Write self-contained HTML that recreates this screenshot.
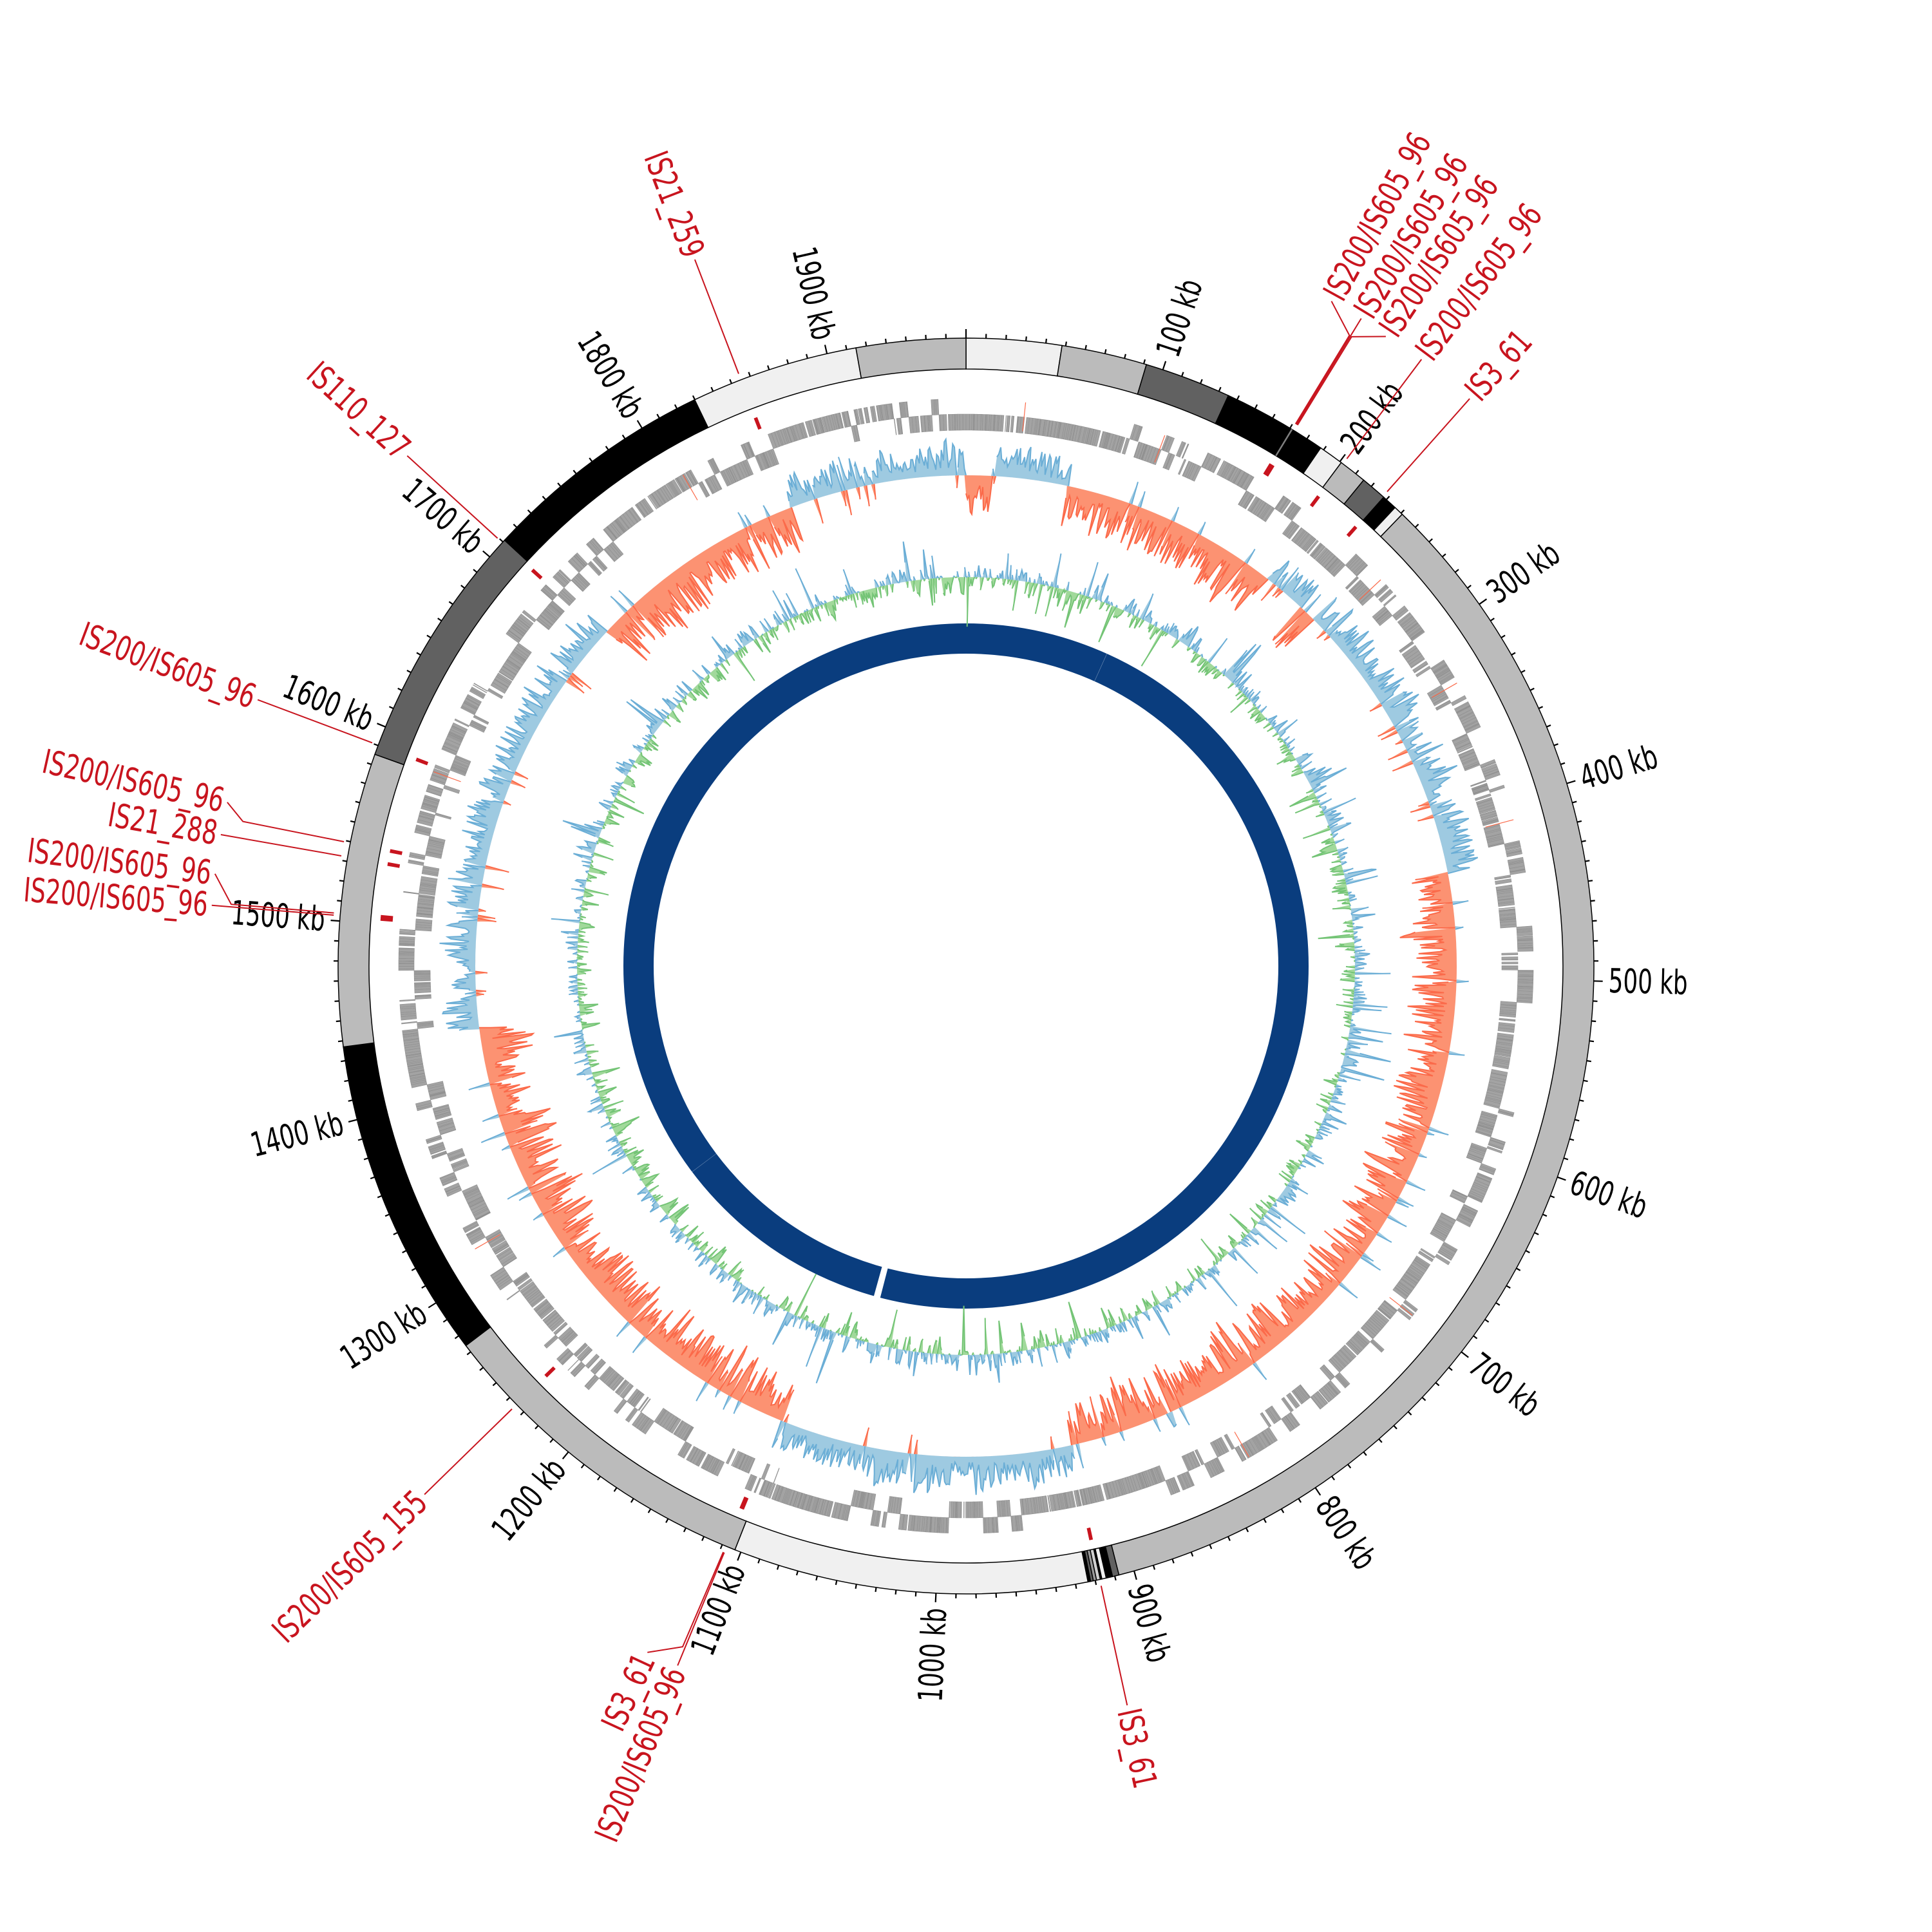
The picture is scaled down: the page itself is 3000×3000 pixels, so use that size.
<!DOCTYPE html>
<html><head><meta charset="utf-8">
<style>
html,body{margin:0;padding:0;background:#fff;}
svg{display:block;}
text{font-family:"DejaVu Sans Condensed","DejaVu Sans","Liberation Sans Narrow",sans-serif;}
</style></head>
<body>
<svg id="s" xmlns="http://www.w3.org/2000/svg" width="3000" height="3000" viewBox="0 0 3000 3000">
<rect width="3000" height="3000" fill="#fff"/>
</svg>
<script>
(function(){
var S=document.getElementById('s');
var C=1500,L=1970,D=Math.PI/180;
function P(a,r){return [C+r*Math.sin(a*D),C-r*Math.cos(a*D)];}
function f(n){return n.toFixed(1);}
function sector(a1,a2,r1,r2){
 var p1=P(a1,r2),p2=P(a2,r2),p3=P(a2,r1),p4=P(a1,r1),lg=(a2-a1)>180?1:0;
 return 'M'+f(p1[0])+','+f(p1[1])+'A'+r2+','+r2+' 0 '+lg+' 1 '+f(p2[0])+','+f(p2[1])+'L'+f(p3[0])+','+f(p3[1])+'A'+r1+','+r1+' 0 '+lg+' 0 '+f(p4[0])+','+f(p4[1])+'Z';
}
function quad(a1,a2,r1,r2){
 var p1=P(a1,r2),p2=P(a2,r2),p3=P(a2,r1),p4=P(a1,r1);
 return 'M'+f(p1[0])+','+f(p1[1])+'L'+f(p2[0])+','+f(p2[1])+'L'+f(p3[0])+','+f(p3[1])+'L'+f(p4[0])+','+f(p4[1])+'Z';
}
function circ(r){return 'M'+(C-r)+','+C+'A'+r+','+r+' 0 1 1 '+(C+r)+','+C+'A'+r+','+r+' 0 1 1 '+(C-r)+','+C+'Z';}
var html='';
function add(s){html+=s;}
var seed=12345;function rnd(){seed=(seed*16807)%2147483647;return (seed-1)/2147483646;}

// inner blue ring
add('<circle cx="1500" cy="1500" r="508.5" fill="none" stroke="#0a3d7e" stroke-width="47"/>');
add('<path d="'+quad(194.5,195.6,480,540)+'" fill="#fff"/>');
add('<path d="'+quad(24.25,24.32,480,540)+'" fill="#fff" opacity="0.4"/>');
add('<path d="'+quad(233.05,233.12,480,540)+'" fill="#fff" opacity="0.4"/>');

function track(vals,R0,posF,posS,negF,negS){
 var N=vals.length,pp='',pn='',sp='',sn='',inP=false,inN=false;
 for(var i=0;i<=N;i++){
  var a=i/N*360,v=vals[i%N];
  var q=P(a,R0+Math.max(v,0)),w=P(a,R0+Math.min(v,0));
  pp+=(i?'L':'M')+f(q[0])+','+f(q[1]);pn+=(i?'L':'M')+f(w[0])+','+f(w[1]);
  if(v>0){sp+=(inP?'L':'M')+f(q[0])+','+f(q[1]);inP=true;}else{if(inP)sp+='L'+f(q[0])+','+f(q[1]);inP=false;}
  if(v<0){sn+=(inN?'L':'M')+f(w[0])+','+f(w[1]);inN=true;}else{if(inN)sn+='L'+f(w[0])+','+f(w[1]);inN=false;}
 }
 add('<path d="'+pn+'Z'+circ(R0)+'" fill="'+negF+'" fill-rule="evenodd"/>');
 add('<path d="'+pp+'Z'+circ(R0)+'" fill="'+posF+'" fill-rule="evenodd"/>');
 add('<path d="'+sn+'" fill="none" stroke="'+negS+'" stroke-width="2"/>');
 add('<path d="'+sp+'" fill="none" stroke="'+posS+'" stroke-width="2"/>');
}

// GC content track baseline 604
(function(){
 var N=1970,vals=[],sm=0;
 for(var i=0;i<N;i++){
  sm=sm*0.6+(rnd()-0.5)*0.8;
  var v=sm*30+(rnd()-0.5)*30;
  if(rnd()<0.06)v+= (rnd()<0.6?1:-1)*(25+rnd()*35);
  vals.push(v);
 }
 track(vals,604,'#9ecae1','#6baed6','#a1d99b','#74c476');
})();

// GC skew track baseline 762
(function(){
 var reg=[[0,3,-1],[3,12,1],[12,38,-1],[38,43,1],[43,45,-1],[45,79,1],[79,167.5,-1],[167.5,202,1],[202,262.7,-1],[262.7,313,1],[313,339,-1],[339,360,1]];
 function sg(a){for(var k=0;k<reg.length;k++)if(a>=reg[k][0]&&a<reg[k][1])return reg[k][2];return 1;}
 var N=1970,vals=[],sm=0.5;
 for(var i=0;i<N;i++){
  var a=i/N*360,s=sg(a);
  sm=sm*0.7+rnd()*0.3;
  var amp=s>0?50:72;
  var v=s*amp*(0.2+0.8*Math.pow(rnd(),1.4))*(0.5+sm);
  if(rnd()<0.05)v=-s*(10+rnd()*30);
  vals.push(v);
 }
 track(vals,762,'#9ecae1','#6baed6','#fc9272','#fb6a4a');
})();

// genes
(function(){
 var pos=0,strand=1,out='';
 while(pos<L){
  if(rnd()<0.3)strand=-strand;
  var run=1+Math.floor(rnd()*8);
  for(var k=0;k<run&&pos<L;k++){
   var len=0.2+Math.pow(rnd(),1.5)*1.8;
   var a1=pos/L*360,a2=Math.min(pos+len,L)/L*360;
   var r1=strand>0?857:832,r2=strand>0?881:857;
   out+=quad(a1,a2,r1,r2);
   pos+=len+0.05+(rnd()<0.1?rnd()*2:0);
  }
 }
 add('<path d="'+out+'" fill="#a3a3a3" stroke="#8f8f8f" stroke-width="0.6"/>');
})();

// outer ring segments
var segs=[[0,8.8,'#f0f0f0'],[8.8,16.7,'#bbbbbb'],[16.7,24.7,'#616161'],[24.7,34.4,'#000'],[34.4,36.7,'#f0f0f0'],[36.7,39.3,'#bbbbbb'],[39.3,41.7,'#616161'],[41.7,43.1,'#000'],[43.1,44.0,'#f0f0f0'],[44.0,165.9,'#bbbbbb'],
[165.9,166.5,'#616161'],[166.5,167.1,'#000'],[167.1,167.5,'#f0f0f0'],[167.5,167.65,'#000'],[167.65,168.0,'#d0d0d0'],[168.0,168.3,'#9a9a9a'],[168.3,168.55,'#616161'],[168.55,168.8,'#000'],
[168.8,201.6,'#f0f0f0'],[201.6,232.8,'#bbbbbb'],[232.8,262.6,'#000'],[262.6,289.7,'#bbbbbb'],[289.7,312.7,'#616161'],[312.7,334.4,'#000'],[334.4,349.9,'#f0f0f0'],[349.9,360,'#bbbbbb']];
segs.forEach(function(s){add('<path d="'+sector(s[0],s[1],927,975)+'" fill="'+s[2]+'" stroke="#000" stroke-width="1.5"/>');});
add('<path d="'+quad(31.2,31.35,927,975)+'" fill="#fff" opacity="0.5"/>');

// ticks
var tk='';
for(var k=0;k<L;k+=10){
 var a=k/L*360,m=(k%100===0),p1=P(a,975),p2=P(a,975+(m?14:7));
 tk+='M'+f(p1[0])+','+f(p1[1])+'L'+f(p2[0])+','+f(p2[1]);
}
add('<path d="'+tk+'" stroke="#000" stroke-width="2.2" fill="none"/>');
var cw={'I':12,'S':22,'/':13,'_':22,' ':10,'k':21,'b':23};
function tw(t){var w=0;for(var i=0;i<t.length;i++)w+=cw[t[i]]||23;return w;}
function label(a,r,t,col){
 var p=P(a,r),rot,anc;
 var aa=((a%360)+360)%360;
 if(aa<180){rot=aa-90;anc='start';}else{rot=aa+90;anc='end';}
 add('<text x="0" y="0" transform="translate('+f(p[0])+','+f(p[1])+') rotate('+f(rot)+')" text-anchor="'+anc+'" dominant-baseline="central" font-size="52" fill="'+col+'" textLength="'+tw(t)+'" lengthAdjust="spacingAndGlyphs">'+t+'</text>');
}
for(var k=100;k<L;k+=100){label(k/L*360,998,k+' kb','#000');}

// mobile elements
var red='#c8141e';
var ml=[[339.0,[[339.0,1175]],'IS21_259'],[312.4,[[312.4,1175]],'IS110_127'],[290.6,[[290.6,1175]],'IS200/IS605_96'],
[281.3,[[281.3,1145],[282.5,1175]],'IS200/IS605_96'],[280.0,[[280.0,1175]],'IS21_288'],[274.8,[[274.8,1145],[277.0,1175]],'IS200/IS605_96'],
[274.6,[[274.6,1175]],'IS200/IS605_96'],[225.7,[[225.7,1175]],'IS200/IS605_155'],[202.5,[[202.6,1145],[204.9,1175]],'IS3_61'],
[202.4,[[202.4,1175]],'IS200/IS605_96'],[167.7,[[167.7,1175]],'IS3_61'],
[31.3,[[31.3,1146],[28.8,1178]],'IS200/IS605_96'],[31.4,[[31.4,1178]],'IS200/IS605_96'],[31.5,[[31.5,1146],[33.7,1175]],'IS200/IS605_96'],
[36.9,[[36.9,1178]],'IS200/IS605_96'],[41.6,[[41.6,1178]],'IS3_61']];
ml.forEach(function(m){
 var p0=P(m[0],985),d='M'+f(p0[0])+','+f(p0[1]);
 m[1].forEach(function(q){var p=P(q[0],q[1]);d+='L'+f(p[0])+','+f(p[1]);});
 add('<path d="'+d+'" stroke="'+red+'" stroke-width="2" fill="none"/>');
 add('<path d="'+quad(m[0]-0.18,m[0]+0.18,893,912)+'" fill="'+red+'"/>');
 var last=m[1][m[1].length-1];
 label(last[0],last[1]+6,m[2],red);
});
[20.5,47,75,128,150,240,290,330,6,60].forEach(function(a){add('<path d="'+quad(a,a+0.08,835,880)+'" fill="#fb6a4a"/>');});

S.insertAdjacentHTML('beforeend',html);
})();
</script>
</body></html>
